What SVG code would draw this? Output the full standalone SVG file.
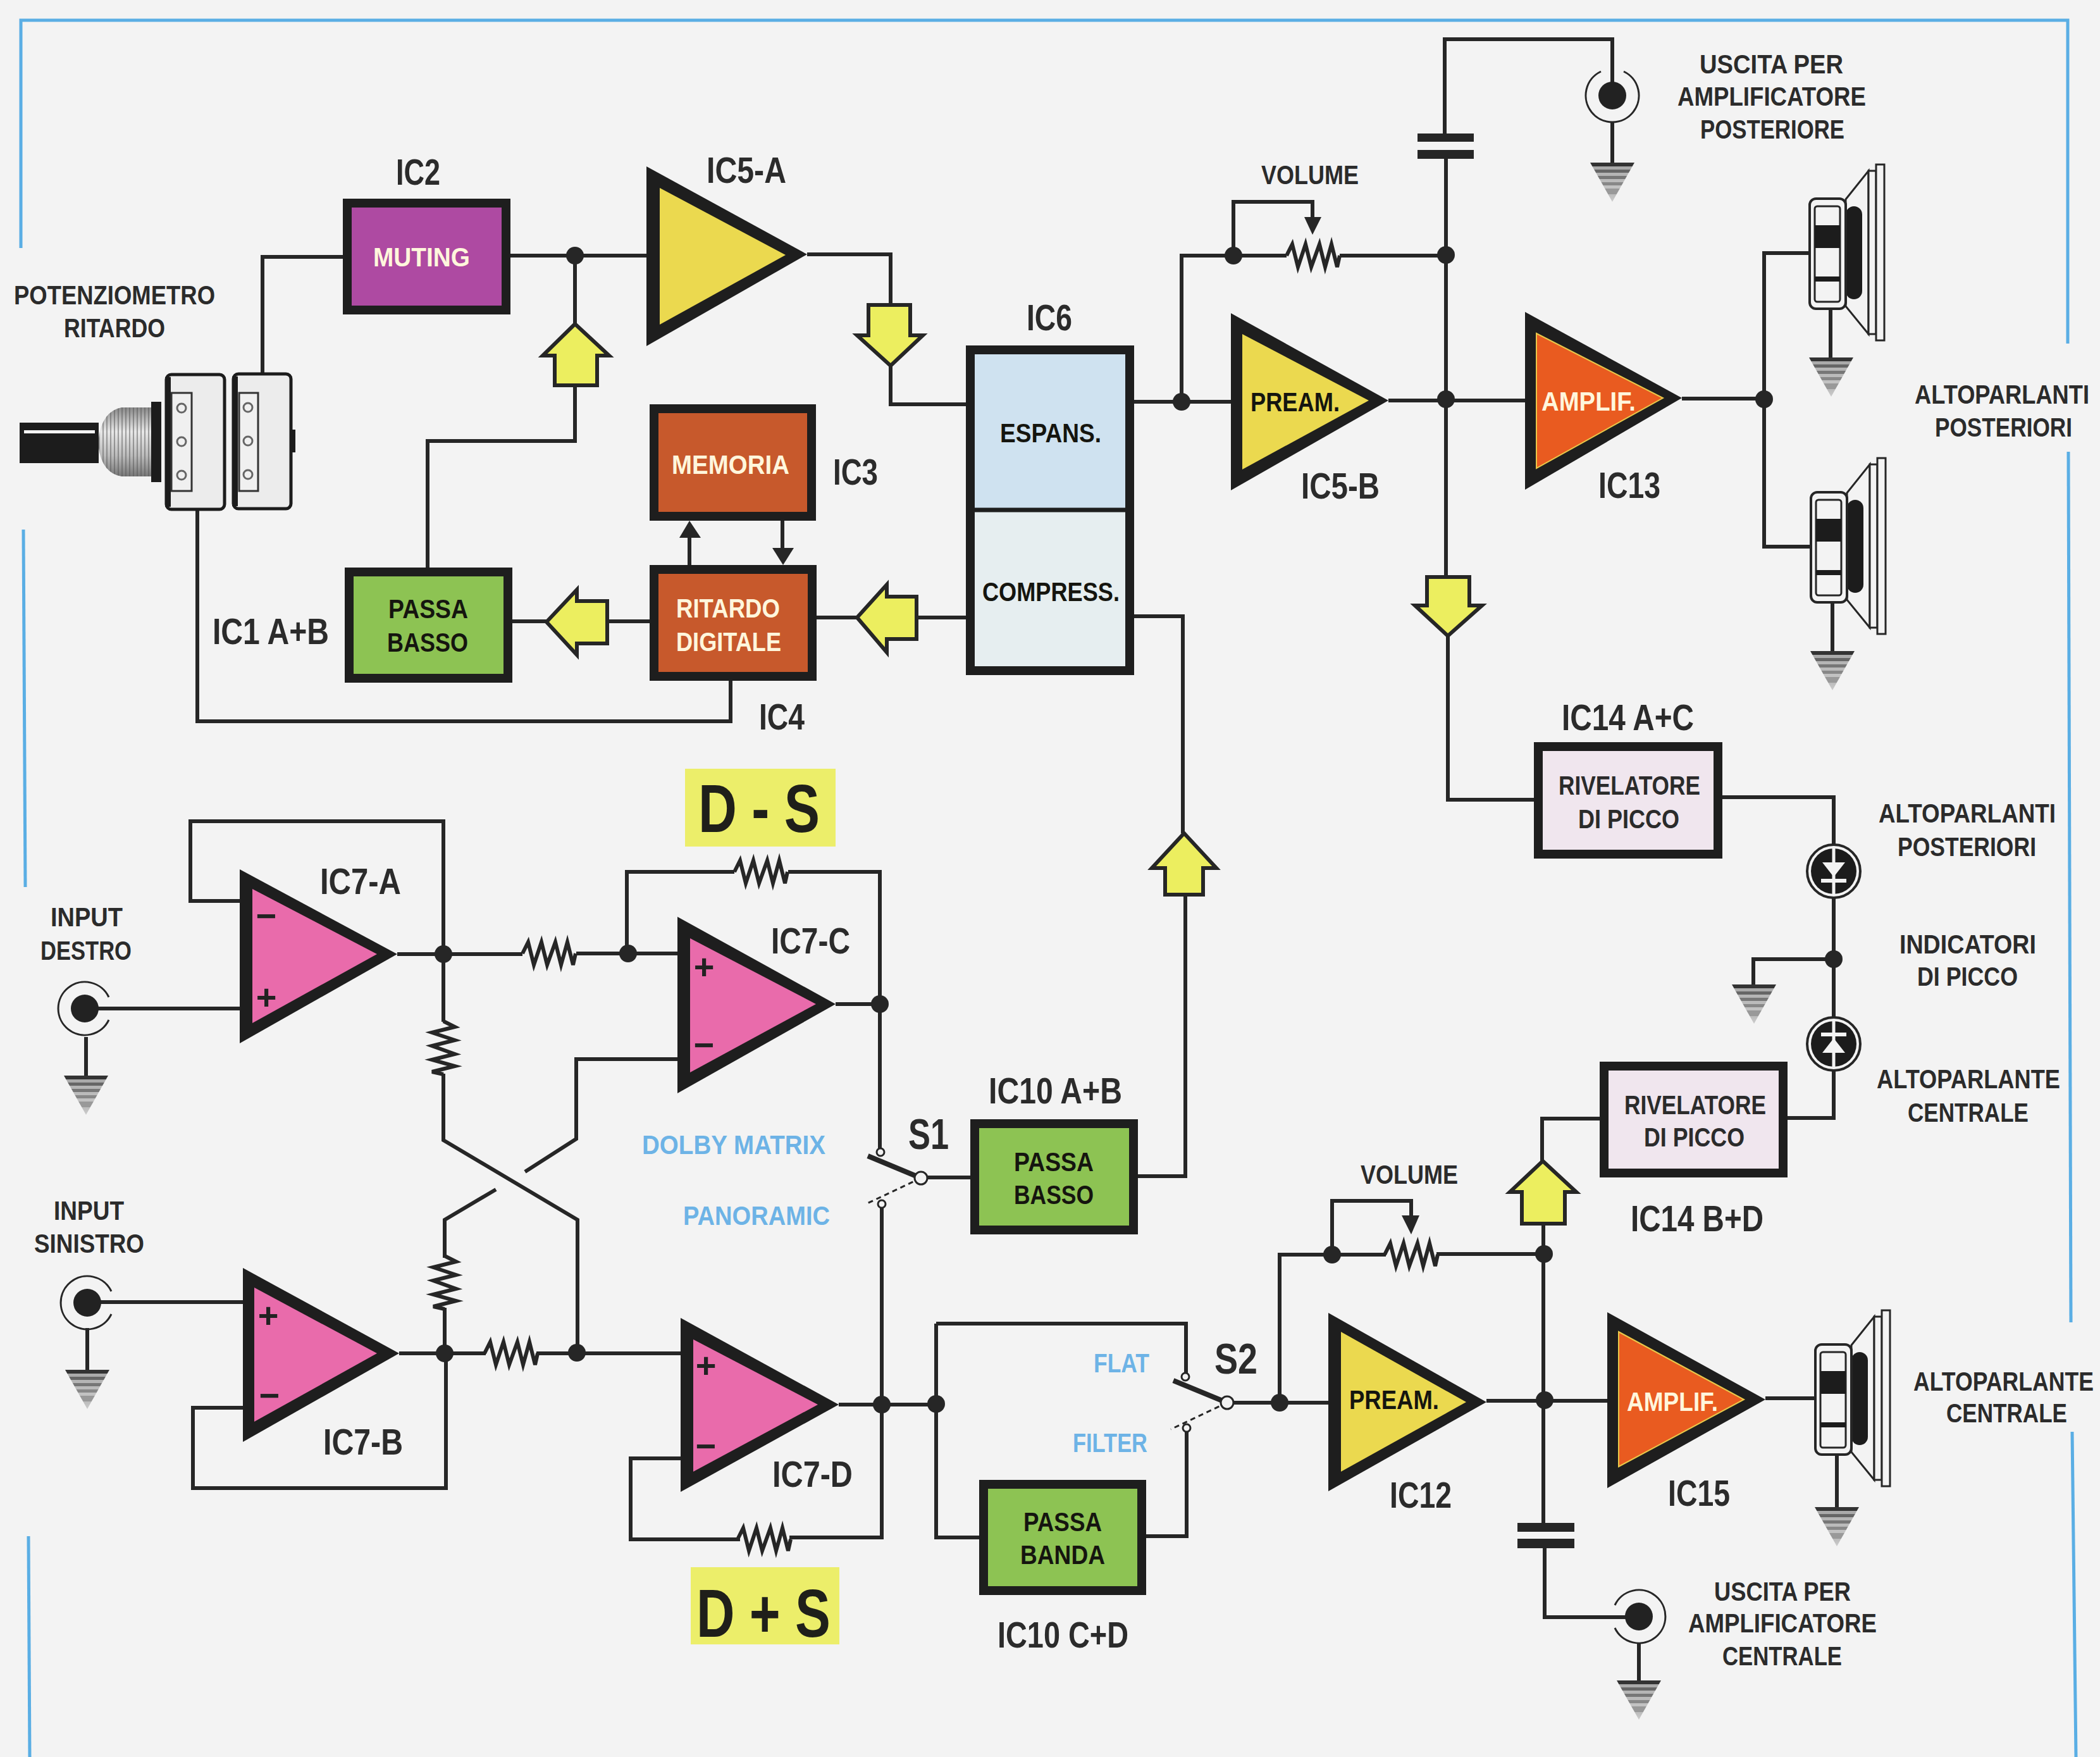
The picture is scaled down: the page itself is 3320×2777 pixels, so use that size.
<svg xmlns="http://www.w3.org/2000/svg" xmlns:xlink="http://www.w3.org/1999/xlink" width="3320" height="2777" viewBox="0 0 3320 2777">
<style>
text{font-family:"Liberation Sans",Arial,sans-serif;font-weight:700;fill:#2b2b2b}
.a{font-size:43px}.b{font-size:57px}.c{font-size:68px}.d{font-size:107px;fill:#1f1f1a}
.bl{fill:#6db3e6}.cr{fill:#fff6dc}.k{fill:#15150f}
.pm{font-size:56px;fill:#222;text-anchor:middle}
.w{fill:none;stroke:#262626;stroke-width:6;stroke-linejoin:miter}
.th{fill:none;stroke:#262626;stroke-width:4}
.bd{stroke:#1e1e1e;stroke-width:14}
.tri{fill:#1e1e1e}
.pink{fill:#e96bab}.yel{fill:#ebd94f}.org{fill:#e95b20}
.grn{fill:#8dc353}.rust{fill:#c7592c}.lil{fill:#f0e6ee}
.ar{fill:#ecee5f;stroke:#262626;stroke-width:6;stroke-linejoin:miter}
.dot{fill:#262626}
.sw{fill:#f3f3f3;stroke:#262626;stroke-width:3}
.blue{fill:none;stroke:#5aaee4;stroke-width:5}
</style>
<defs>
<linearGradient id="gg" x1="0" y1="0" x2="0" y2="1">
<stop offset="0" stop-color="#333"/><stop offset=".1" stop-color="#333"/><stop offset=".1" stop-color="#aaa"/><stop offset=".18" stop-color="#aaa"/><stop offset=".18" stop-color="#666"/><stop offset=".26" stop-color="#666"/><stop offset=".26" stop-color="#b5b5b5"/><stop offset=".34" stop-color="#b5b5b5"/><stop offset=".34" stop-color="#777"/><stop offset=".42" stop-color="#777"/><stop offset=".42" stop-color="#bbb"/><stop offset=".5" stop-color="#bbb"/><stop offset=".5" stop-color="#888"/><stop offset=".58" stop-color="#888"/><stop offset=".58" stop-color="#c2c2c2"/><stop offset=".66" stop-color="#c2c2c2"/><stop offset=".66" stop-color="#999"/><stop offset=".8" stop-color="#999"/><stop offset=".8" stop-color="#bbb"/><stop offset="1" stop-color="#ccc"/>
</linearGradient>
<linearGradient id="sh" x1="0" y1="0" x2="0" y2="1"><stop offset="0" stop-color="#888"/><stop offset=".35" stop-color="#e8e8e8"/><stop offset=".7" stop-color="#bbb"/><stop offset="1" stop-color="#777"/></linearGradient>
<pattern id="thr" width="6" height="6" patternUnits="userSpaceOnUse"><rect width="2" height="6" fill="#555" opacity=".5"/></pattern>
<polygon id="gnd" points="-35,0 35,0 0,62" fill="url(#gg)"/>
<path id="res" class="w" d="M0 0L9-18 18 18 30-18 39 18 52-18 61 18 71-18 80 18 84 0"/>
<g id="jack"><path d="M38-18A42 42 0 1 0 38 18" fill="none" stroke="#262626" stroke-width="3"/><circle r="22" fill="#222"/></g>
<g id="diode"><circle r="42" fill="#f3f3f3" stroke="#262626" stroke-width="4"/><circle r="36" fill="#1c1c1c"/><path d="M0-36V36" stroke="#f3f3f3" stroke-width="5"/><polygon points="-18,-14 18,-14 0,9" fill="#f3f3f3"/><path d="M-20 15H20" stroke="#f3f3f3" stroke-width="6"/></g>
<g id="spk"><polygon class="sw" points="57,1 93,-44 93,214 57,170"/><rect x="57" y="12" width="26" height="147" rx="13" fill="#1c1c1c"/><rect class="sw" x="93" y="-44" width="12" height="258"/><rect class="sw" x="105" y="-54" width="13" height="278"/><rect x="0" y="0" width="57" height="174" rx="10" fill="#f3f3f3" stroke="#262626" stroke-width="4"/><rect x="8" y="12" width="40" height="151" rx="4" fill="#f3f3f3" stroke="#262626" stroke-width="3"/><rect x="8" y="42" width="40" height="36" fill="#1c1c1c"/><rect x="8" y="123" width="40" height="8" fill="#1c1c1c"/></g>
</defs>
<rect width="3320" height="2777" fill="#f3f3f3"/>
<g id="frame">
<path class="blue" d="M33 392V32H3269V543"/>
<path class="blue" d="M37 837L40 1402"/>
<path class="blue" d="M45 2428L47 2777"/>
<path class="blue" d="M3270 714L3274 2090"/>
<path class="blue" d="M3276 2263L3282 2777"/>
</g>
<g id="connectors">
<path class="w" d="M415 589V406H542M807 404H1022M909 404V512M909 609V697H676V897"/>
<path class="w" d="M1276 402H1408V482M1408 578V639H1527"/>
<path class="w" d="M1793 635H1946M1868 635V404H2034M2118 404H2286M1950 404V319H2075V345"/>
<path class="w" d="M2195 633H2411M2284 211V62H2549V150M2549 194V257M2286 251V912M2289 1005V1264H2425"/>
<path class="w" d="M2659 630H2789M2861 400H2789V864H2863M2894 488V565M2897 952V1029"/>
<path class="w" d="M1793 974H1870V1317M1874 1414V1859H1799"/>
<path class="w" d="M1527 976H1449M1355 976H1291M1027 982H960M864 982H810"/>
<path class="w" d="M312 806V1140H1155V1076M1090 893V845M1237 823V870"/>
<polygon class="dot" points="1090,823 1074,850 1108,850"/>
<polygon class="dot" points="1238,893 1221,866 1255,866"/>
<polygon class="dot" points="2075,371 2062,343 2089,343"/>
<polygon class="dot" points="2231,1951 2216,1921 2244,1921"/>
<path class="w" d="M2723 1260H2899V1767H2826M2899 1516H2772V1556M2529 1768H2438V1837M2440 1934V2407M2442 2447V2556H2591M2591 2596V2656"/>
<path class="w" d="M2350 2214H2541M2791 2210H2871M2904 2300V2382"/>
<path class="w" d="M2271 1982H2441M2191 1983H2023V2217M2106 1983V1898H2231V1925M1946 2217H2100M1466 1861H1534"/>
<path class="w" d="M991 1507V1378H1161M1246 1378H1391V1815M1394 1909V2430H1248M1170 2433H997V2305H1076"/>
<path class="w" d="M1326 2220H1480M1480 2092V2430H1548M1480 2092H1875V2170M1812 2428H1876V2263"/>
<path class="w" d="M628 1508H826M911 1507H1071M379 1424H301V1298H701V1615M701 1697V1802L913 1928V2138M1071 1674H911V1800L830 1852M784 1880L703 1928V1988M703 2067V2139"/>
<path class="w" d="M631 2139H768M848 2139H1076M384 2225H305V2352H705V2139M138 2058H384M134 1594H379M136 1639V1700M138 2099V2165M1321 1587H1391"/>
<use xlink:href="#res" href="#res" x="826" y="1507"/>
<use xlink:href="#res" href="#res" x="1161" y="1378"/>
<use xlink:href="#res" href="#res" x="766" y="2139"/>
<use xlink:href="#res" href="#res" x="1166" y="2433"/>
<use xlink:href="#res" href="#res" x="2034" y="404"/>
<use xlink:href="#res" href="#res" x="2189" y="1983"/>
<use xlink:href="#res" href="#res" transform="translate(701,1614) rotate(90)"/>
<use xlink:href="#res" href="#res" transform="translate(703,1985) rotate(90)"/>
<circle class="dot" cx="909" cy="404" r="14"/><circle class="dot" cx="1868" cy="635" r="14"/><circle class="dot" cx="1950" cy="404" r="14"/><circle class="dot" cx="2286" cy="403" r="14"/><circle class="dot" cx="2286" cy="631" r="14"/><circle class="dot" cx="2789" cy="631" r="14"/><circle class="dot" cx="2899" cy="1516" r="14"/><circle class="dot" cx="701" cy="1508" r="14"/><circle class="dot" cx="993" cy="1507" r="14"/><circle class="dot" cx="1391" cy="1587" r="14"/><circle class="dot" cx="703" cy="2139" r="14"/><circle class="dot" cx="912" cy="2138" r="14"/><circle class="dot" cx="1394" cy="2220" r="14"/><circle class="dot" cx="1480" cy="2219" r="14"/><circle class="dot" cx="2023" cy="2217" r="14"/><circle class="dot" cx="2106" cy="1983" r="14"/><circle class="dot" cx="2441" cy="1982" r="14"/><circle class="dot" cx="2442" cy="2213" r="14"/>
<polygon class="ar" points="909,512 963,562 944,562 944,609 877,609 877,562 858,562"/>
<polygon class="ar" points="1408,578 1355,530 1373,530 1373,482 1439,482 1439,530 1459,530"/>
<polygon class="ar" points="864,983 912,932 912,950 960,950 960,1017 912,1017 912,1035"/>
<polygon class="ar" points="1355,976 1402,924 1402,943 1449,943 1449,1010 1402,1010 1402,1031"/>
<polygon class="ar" points="1872,1317 1923,1372 1902,1372 1902,1414 1842,1414 1842,1372 1821,1372"/>
<polygon class="ar" points="2289,1005 2237,957 2256,957 2256,912 2323,912 2323,957 2343,957"/>
<polygon class="ar" points="2439,1835 2492,1884 2474,1884 2474,1934 2406,1934 2406,1884 2387,1884"/>
</g>
<g id="pot">
<rect x="31" y="668" width="125" height="64" fill="#1c1c1c"/><rect x="38" y="680" width="112" height="5" fill="#f3f3f3"/>
<path d="M156 692Q162 650 192 644H239V753H192Q162 748 156 708Z" fill="url(#sh)"/><path d="M156 692Q162 650 192 644H239V753H192Q162 748 156 708Z" fill="url(#thr)"/>
<rect x="239" y="635" width="16" height="127" fill="#1c1c1c"/>
<rect x="263" y="592" width="92" height="213" rx="8" fill="#ececec" stroke="#1c1c1c" stroke-width="5"/><rect x="261" y="596" width="9" height="205" fill="#1c1c1c"/><rect x="271" y="621" width="32" height="155" fill="#f0f0f0" stroke="#333" stroke-width="3"/>
<circle cx="287" cy="645" r="7" fill="#f0f0f0" stroke="#666" stroke-width="3"/><circle cx="287" cy="698" r="7" fill="#f0f0f0" stroke="#666" stroke-width="3"/><circle cx="287" cy="751" r="7" fill="#f0f0f0" stroke="#666" stroke-width="3"/>
<rect x="369" y="591" width="91" height="213" rx="8" fill="#ececec" stroke="#1c1c1c" stroke-width="5"/><rect x="367" y="595" width="9" height="205" fill="#1c1c1c"/><rect x="378" y="621" width="30" height="155" fill="#f0f0f0" stroke="#333" stroke-width="3"/>
<circle cx="392" cy="644" r="7" fill="#f0f0f0" stroke="#666" stroke-width="3"/><circle cx="392" cy="697" r="7" fill="#f0f0f0" stroke="#666" stroke-width="3"/><circle cx="392" cy="750" r="7" fill="#f0f0f0" stroke="#666" stroke-width="3"/>
<rect x="460" y="679" width="7" height="36" fill="#1c1c1c"/>
<text class="a" x="22" y="481" textLength="318" lengthAdjust="spacingAndGlyphs">POTENZIOMETRO</text>
<text class="a" x="101" y="533" textLength="160" lengthAdjust="spacingAndGlyphs">RITARDO</text>
</g>
<g id="ic2"><rect class="bd" x="549" y="321" width="251" height="169" fill="#ae4aa2"/><text class="a cr" x="590" y="421" textLength="153" lengthAdjust="spacingAndGlyphs">MUTING</text><text class="b" x="626" y="292" textLength="70" lengthAdjust="spacingAndGlyphs">IC2</text></g>
<g id="ic1"><rect class="bd grn" x="552" y="904" width="251" height="168"/><text class="a k" x="614" y="977" textLength="126" lengthAdjust="spacingAndGlyphs">PASSA</text><text class="a k" x="612" y="1030" textLength="128" lengthAdjust="spacingAndGlyphs">BASSO</text><text class="b" x="336" y="1018" textLength="184" lengthAdjust="spacingAndGlyphs">IC1 A+B</text></g>
<g id="ic5a"><polygon class="tri" points="1022,263 1276,402 1022,547"/><polygon class="yel" points="1043,297 1242,403 1043,513"/><text class="b" x="1117" y="289" textLength="126" lengthAdjust="spacingAndGlyphs">IC5-A</text></g>
<g id="ic3"><rect class="bd rust" x="1034" y="646" width="249" height="170"/><text class="a cr" x="1062" y="749" textLength="186" lengthAdjust="spacingAndGlyphs">MEMORIA</text><text class="b" x="1317" y="766" textLength="71" lengthAdjust="spacingAndGlyphs">IC3</text></g>
<g id="ic4"><rect class="bd rust" x="1034" y="900" width="250" height="169"/><text class="a cr" x="1069" y="976" textLength="164" lengthAdjust="spacingAndGlyphs">RITARDO</text><text class="a cr" x="1069" y="1029" textLength="166" lengthAdjust="spacingAndGlyphs">DIGITALE</text><text class="b" x="1200" y="1153" textLength="72" lengthAdjust="spacingAndGlyphs">IC4</text></g>
<g id="ic6"><rect x="1534" y="553" width="252" height="253" fill="#cfe2f0"/><rect x="1534" y="806" width="252" height="254" fill="#e6eef0"/><rect x="1534" y="553" width="252" height="507" fill="none" class="bd"/><path d="M1534 806H1786" stroke="#1e1e1e" stroke-width="7"/><text class="a k" x="1581" y="699" textLength="160" lengthAdjust="spacingAndGlyphs">ESPANS.</text><text class="a k" x="1553" y="950" textLength="217" lengthAdjust="spacingAndGlyphs">COMPRESS.</text><text class="b" x="1623" y="522" textLength="72" lengthAdjust="spacingAndGlyphs">IC6</text></g>
<g id="ic5b"><polygon class="tri" points="1946,495 2195,633 1946,775"/><polygon class="yel" points="1964,528 2164,633 1964,742"/><text class="a k" x="1977" y="650" textLength="141" lengthAdjust="spacingAndGlyphs">PREAM.</text><text class="b" x="2057" y="788" textLength="124" lengthAdjust="spacingAndGlyphs">IC5-B</text></g>
<g id="vol1"><text class="a" x="1994" y="291" textLength="154" lengthAdjust="spacingAndGlyphs">VOLUME</text></g>
<g id="cap1"><rect class="dot" x="2241" y="211" width="89" height="13"/><rect class="dot" x="2241" y="237" width="89" height="14"/></g>
<g id="jack-post"><use xlink:href="#jack" href="#jack" transform="translate(2549,151) rotate(-90)"/><use xlink:href="#gnd" href="#gnd" x="2549" y="257"/><text class="a" x="2687" y="116" textLength="227" lengthAdjust="spacingAndGlyphs">USCITA PER</text><text class="a" x="2652" y="167" textLength="298" lengthAdjust="spacingAndGlyphs">AMPLIFICATORE</text><text class="a" x="2688" y="219" textLength="228" lengthAdjust="spacingAndGlyphs">POSTERIORE</text></g>
<g id="ic13"><polygon class="tri" points="2411,493 2659,629 2411,774"/><polygon class="org" points="2429,527 2629,629 2429,740" stroke="#e9c84a" stroke-width="2"/><text class="a cr" x="2437" y="649" textLength="149" lengthAdjust="spacingAndGlyphs">AMPLIF.</text><text class="b" x="2527" y="787" textLength="98" lengthAdjust="spacingAndGlyphs">IC13</text></g>
<g id="spk1"><use xlink:href="#spk" href="#spk" x="2861" y="314"/><use xlink:href="#gnd" href="#gnd" x="2895" y="565"/></g>
<g id="spk2"><use xlink:href="#spk" href="#spk" x="2863" y="778"/><use xlink:href="#gnd" href="#gnd" x="2897" y="1029"/></g>
<g id="lbl-post"><text class="a" x="3027" y="638" textLength="276" lengthAdjust="spacingAndGlyphs">ALTOPARLANTI</text><text class="a" x="3059" y="690" textLength="217" lengthAdjust="spacingAndGlyphs">POSTERIORI</text></g>
<g id="ic14ac"><rect class="bd lil" x="2432" y="1180" width="284" height="170"/><text class="a" x="2464" y="1256" textLength="224" lengthAdjust="spacingAndGlyphs">RIVELATORE</text><text class="a" x="2495" y="1309" textLength="160" lengthAdjust="spacingAndGlyphs">DI PICCO</text><text class="b" x="2469" y="1154" textLength="209" lengthAdjust="spacingAndGlyphs">IC14 A+C</text></g>
<g id="ic14bd"><rect class="bd lil" x="2536" y="1685" width="283" height="169"/><text class="a" x="2568" y="1761" textLength="224" lengthAdjust="spacingAndGlyphs">RIVELATORE</text><text class="a" x="2599" y="1812" textLength="159" lengthAdjust="spacingAndGlyphs">DI PICCO</text><text class="b" x="2578" y="1946" textLength="210" lengthAdjust="spacingAndGlyphs">IC14 B+D</text></g>
<g id="indicatori"><use xlink:href="#diode" href="#diode" x="2899" y="1377"/><use xlink:href="#diode" href="#diode" transform="translate(2899,1650) rotate(180)"/><use xlink:href="#gnd" href="#gnd" x="2773" y="1556"/>
<text class="a" x="2970" y="1300" textLength="280" lengthAdjust="spacingAndGlyphs">ALTOPARLANTI</text><text class="a" x="3000" y="1353" textLength="219" lengthAdjust="spacingAndGlyphs">POSTERIORI</text><text class="a" x="3003" y="1507" textLength="216" lengthAdjust="spacingAndGlyphs">INDICATORI</text><text class="a" x="3031" y="1558" textLength="159" lengthAdjust="spacingAndGlyphs">DI PICCO</text><text class="a" x="2967" y="1720" textLength="290" lengthAdjust="spacingAndGlyphs">ALTOPARLANTE</text><text class="a" x="3016" y="1773" textLength="191" lengthAdjust="spacingAndGlyphs">CENTRALE</text></g>
<g id="ds"><rect x="1083" y="1215" width="238" height="123" fill="#ecee6a"/><text class="d" x="1104" y="1315" textLength="192" lengthAdjust="spacingAndGlyphs">D - S</text></g>
<g id="dps"><rect x="1092" y="2477" width="235" height="122" fill="#ecee6a"/><text class="d" x="1101" y="2587" textLength="212" lengthAdjust="spacingAndGlyphs">D + S</text></g>
<g id="ic7a"><polygon class="tri" points="379,1374 628,1508 379,1649"/><polygon class="pink" points="399,1405 596,1508 399,1617"/><text class="pm" x="421" y="1467">−</text><text class="pm" x="421" y="1595">+</text><text class="b" x="506" y="1413" textLength="128" lengthAdjust="spacingAndGlyphs">IC7-A</text></g>
<g id="ic7b"><polygon class="tri" points="384,2004 631,2139 384,2279"/><polygon class="pink" points="402,2035 596,2139 402,2247"/><text class="pm" x="424" y="2098">+</text><text class="pm" x="426" y="2225">−</text><text class="b" x="511" y="2299" textLength="126" lengthAdjust="spacingAndGlyphs">IC7-B</text></g>
<g id="ic7c"><polygon class="tri" points="1071,1449 1321,1587 1071,1728"/><polygon class="pink" points="1091,1483 1290,1587 1091,1695"/><text class="pm" x="1113" y="1547">+</text><text class="pm" x="1113" y="1671">−</text><text class="b" x="1219" y="1507" textLength="125" lengthAdjust="spacingAndGlyphs">IC7-C</text></g>
<g id="ic7d"><polygon class="tri" points="1076,2083 1326,2220 1076,2358"/><polygon class="pink" points="1096,2117 1293,2220 1096,2326"/><text class="pm" x="1116" y="2177">+</text><text class="pm" x="1116" y="2305">−</text><text class="b" x="1221" y="2350" textLength="127" lengthAdjust="spacingAndGlyphs">IC7-D</text></g>
<g id="in-d"><use xlink:href="#jack" href="#jack" x="134" y="1594"/><use xlink:href="#gnd" href="#gnd" x="136" y="1700"/><text class="a" x="80" y="1464" textLength="114" lengthAdjust="spacingAndGlyphs">INPUT</text><text class="a" x="64" y="1517" textLength="144" lengthAdjust="spacingAndGlyphs">DESTRO</text></g>
<g id="in-s"><use xlink:href="#jack" href="#jack" x="138" y="2059"/><use xlink:href="#gnd" href="#gnd" x="138" y="2165"/><text class="a" x="85" y="1928" textLength="111" lengthAdjust="spacingAndGlyphs">INPUT</text><text class="a" x="54" y="1980" textLength="174" lengthAdjust="spacingAndGlyphs">SINISTRO</text></g>
<g id="s1"><path d="M1456 1862L1372 1827" stroke="#262626" stroke-width="8"/><path d="M1456 1862L1369 1903" stroke="#262626" stroke-width="3" stroke-dasharray="8 6"/><circle class="sw" cx="1392" cy="1821" r="6"/><circle class="sw" cx="1394" cy="1903" r="6"/><circle class="sw" cx="1456" cy="1862" r="10"/><text class="c" x="1436" y="1816" textLength="64" lengthAdjust="spacingAndGlyphs">S1</text><text class="a bl" x="1015" y="1824" textLength="290" lengthAdjust="spacingAndGlyphs">DOLBY  MATRIX</text><text class="a bl" x="1080" y="1936" textLength="232" lengthAdjust="spacingAndGlyphs">PANORAMIC</text></g>
<g id="ic10ab"><rect class="bd grn" x="1541" y="1776" width="251" height="168"/><text class="a k" x="1603" y="1851" textLength="126" lengthAdjust="spacingAndGlyphs">PASSA</text><text class="a k" x="1603" y="1903" textLength="126" lengthAdjust="spacingAndGlyphs">BASSO</text><text class="b" x="1563" y="1744" textLength="211" lengthAdjust="spacingAndGlyphs">IC10 A+B</text></g>
<g id="ic10cd"><rect class="bd grn" x="1555" y="2346" width="250" height="168"/><text class="a k" x="1618" y="2420" textLength="124" lengthAdjust="spacingAndGlyphs">PASSA</text><text class="a k" x="1613" y="2472" textLength="134" lengthAdjust="spacingAndGlyphs">BANDA</text><text class="b" x="1577" y="2604" textLength="207" lengthAdjust="spacingAndGlyphs">IC10 C+D</text></g>
<g id="s2"><path d="M1940 2217L1855 2182" stroke="#262626" stroke-width="8"/><path d="M1940 2217L1851 2259" stroke="#262626" stroke-width="3" stroke-dasharray="8 6"/><circle class="sw" cx="1874" cy="2176" r="6"/><circle class="sw" cx="1876" cy="2257" r="6"/><circle class="sw" cx="1940" cy="2217" r="10"/><text class="c" x="1920" y="2171" textLength="68" lengthAdjust="spacingAndGlyphs">S2</text><text class="a bl" x="1729" y="2169" textLength="88" lengthAdjust="spacingAndGlyphs">FLAT</text><text class="a bl" x="1696" y="2295" textLength="118" lengthAdjust="spacingAndGlyphs">FILTER</text></g>
<g id="vol2"><text class="a" x="2151" y="1871" textLength="154" lengthAdjust="spacingAndGlyphs">VOLUME</text></g>
<g id="ic12"><polygon class="tri" points="2100,2075 2350,2216 2100,2357"/><polygon class="yel" points="2120,2105 2318,2216 2120,2326"/><text class="a k" x="2133" y="2227" textLength="142" lengthAdjust="spacingAndGlyphs">PREAM.</text><text class="b" x="2197" y="2383" textLength="98" lengthAdjust="spacingAndGlyphs">IC12</text></g>
<g id="ic15"><polygon class="tri" points="2541,2074 2791,2212 2541,2352"/><polygon class="org" points="2559,2105 2757,2212 2559,2318" stroke="#e9c84a" stroke-width="2"/><text class="a cr" x="2572" y="2230" textLength="144" lengthAdjust="spacingAndGlyphs">AMPLIF.</text><text class="b" x="2637" y="2380" textLength="98" lengthAdjust="spacingAndGlyphs">IC15</text></g>
<g id="spk3"><use xlink:href="#spk" href="#spk" x="2870" y="2125"/><use xlink:href="#gnd" href="#gnd" x="2904" y="2382"/><text class="a" x="3025" y="2198" textLength="285" lengthAdjust="spacingAndGlyphs">ALTOPARLANTE</text><text class="a" x="3077" y="2248" textLength="191" lengthAdjust="spacingAndGlyphs">CENTRALE</text></g>
<g id="cap2"><rect class="dot" x="2399" y="2407" width="90" height="14"/><rect class="dot" x="2399" y="2432" width="90" height="15"/></g>
<g id="jack-cen"><use xlink:href="#jack" href="#jack" transform="translate(2591,2555) rotate(180)"/><use xlink:href="#gnd" href="#gnd" x="2591" y="2656"/><text class="a" x="2710" y="2530" textLength="216" lengthAdjust="spacingAndGlyphs">USCITA PER</text><text class="a" x="2669" y="2580" textLength="298" lengthAdjust="spacingAndGlyphs">AMPLIFICATORE</text><text class="a" x="2723" y="2632" textLength="189" lengthAdjust="spacingAndGlyphs">CENTRALE</text></g>
</svg>
